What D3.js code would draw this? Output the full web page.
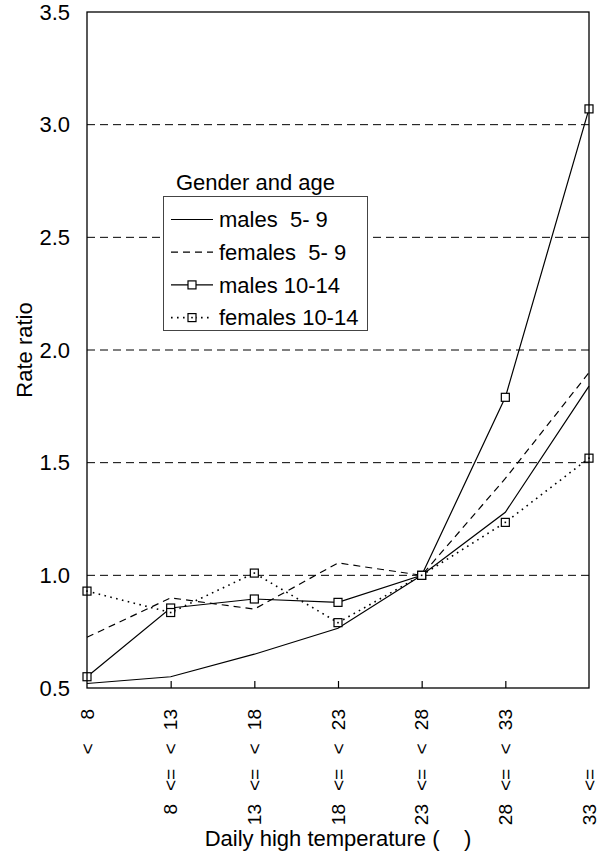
<!DOCTYPE html>
<html>
<head>
<meta charset="utf-8">
<script src="https://cdn.jsdelivr.net/npm/d3@7"></script>
<style>
	body { margin: 0; background: #fff; }
	text { font-family: "Liberation Sans", Arial, sans-serif; fill: #000; }
</style>
</head>
<body>
<div id="area1"></div>
<script>
// temperature bands (lower / upper bound of each category)
var bandLow  = [null, 8, 13, 18, 23, 28, 33];
var bandHigh = [8, 13, 18, 23, 28, 33, null];

var yTicks = [0.5, 1.0, 1.5, 2.0, 2.5, 3.0, 3.5];
var gridValues = [1.0, 1.5, 2.0, 2.5, 3.0];

// rate ratios
var males5to9    = [0.52, 0.55, 0.65, 0.765, 1.0, 1.28, 1.84];
var females5to9  = [0.725, 0.90, 0.85, 1.055, 1.0, 1.43, 1.90];
var males10to14  = [0.55, 0.855, 0.895, 0.88, 1.0, 1.79, 3.07];
var females10to14 = [0.93, 0.835, 1.01, 0.79, 1.0, 1.235, 1.52];

var seriesNames = ["males  5- 9", "females  5- 9", "males 10-14", "females 10-14"];

function drawRateRatioChart(){
	var svgWidth = 599;
	var svgHeight = 856;
	var margin = {top: 12, right: 10, bottom: 168, left: 87};
	var fontSize = 22;

	var svg = d3.select("#area1")
		.append("svg")
		.attr("width", svgWidth)
		.attr("height", svgHeight);

	var idx = d3.range(bandLow.length);

	var xScale = d3.scalePoint()
		.domain(idx)
		.range([margin.left, svgWidth - margin.right])
		.padding(0);

	var yScale = d3.scaleLinear()
		.domain([0.5, 3.5])
		.range([svgHeight - margin.bottom, margin.top]);

	var x0 = xScale.range()[0], x1 = xScale.range()[1];
	var y0 = yScale.range()[0], y1 = yScale.range()[1];

	//dashed reference lines
	svg.selectAll("line.grid")
		.data(gridValues)
		.enter()
		.append("line")
		.attr("class", "grid")
		.attr("x1", x0)
		.attr("x2", x1)
		.attr("y1", function(d){ return yScale(d); })
		.attr("y2", function(d){ return yScale(d); })
		.attr("stroke", "#000")
		.attr("stroke-width", 1)
		.attr("stroke-dasharray", "8,5");

	//y axis labels only, frame drawn separately
	var yAxis = d3.axisLeft()
		.scale(yScale)
		.tickValues(yTicks)
		.tickSize(0)
		.tickPadding(17)
		.tickFormat(d3.format(".1f"));

	var gy = svg.append("g")
		.attr("transform", "translate(" + x0 + ",0)")
		.call(yAxis);
	gy.select(".domain").remove();
	gy.selectAll("text")
		.style("font-family", "Liberation Sans, Arial, sans-serif")
		.style("font-size", fontSize + "px");

	//x axis with inward ticks on inner categories
	var xAxis = d3.axisBottom()
		.scale(xScale)
		.tickValues(idx.slice(1, idx.length - 1))
		.tickSizeInner(-7)
		.tickSizeOuter(0)
		.tickFormat("");

	var gx = svg.append("g")
		.attr("transform", "translate(0," + y0 + ")")
		.call(xAxis);
	gx.select(".domain").remove();
	gx.selectAll("line").attr("stroke", "#000").attr("stroke-width", 1.2);

	//rotated band labels, pieces at fixed offsets
	var labelSize = 19;
	var lab = svg.selectAll("g.xlab")
		.data(idx)
		.enter()
		.append("g")
		.attr("class", "xlab")
		.attr("transform", function(d){ return "translate(" + xScale(d) + ",0) rotate(-90)"; })
		.style("font-size", labelSize + "px");

	lab.filter(function(d){ return bandHigh[d] !== null; })
		.append("text")
		.attr("x", -709)
		.attr("dy", "0.35em")
		.attr("text-anchor", "end")
		.text(function(d){ return bandHigh[d]; });
	lab.filter(function(d){ return bandHigh[d] !== null; })
		.append("text")
		.attr("x", -749)
		.attr("dy", "0.35em")
		.attr("text-anchor", "middle")
		.text("<");
	lab.filter(function(d){ return bandLow[d] !== null; })
		.append("text")
		.attr("x", -780)
		.attr("dy", "0.35em")
		.attr("text-anchor", "middle")
		.text("<=");
	lab.filter(function(d){ return bandLow[d] !== null; })
		.append("text")
		.attr("x", -804)
		.attr("dy", "0.35em")
		.attr("text-anchor", "end")
		.text(function(d){ return bandLow[d]; });

	//series lines
	var series = [
		{name: seriesNames[0], values: males5to9, dash: null, marker: false},
		{name: seriesNames[1], values: females5to9, dash: "7,5", marker: false},
		{name: seriesNames[2], values: males10to14, dash: null, marker: true},
		{name: seriesNames[3], values: females10to14, dash: "1.6,4.4", marker: true}
	];

	var line = d3.line()
		.x(function(d, i){ return xScale(i); })
		.y(function(d){ return yScale(d); });

	series.forEach(function(s){
		svg.append("path")
			.datum(s.values)
			.attr("d", line)
			.attr("fill", "none")
			.attr("stroke", "#000")
			.attr("stroke-width", s.dash === "1.6,4.4" ? 1.6 : 1.2)
			.attr("stroke-dasharray", s.dash);
	});

	//square markers
	var sq = 8;
	series.filter(function(s){ return s.marker; }).forEach(function(s, k){
		svg.selectAll("rect.m" + k)
			.data(s.values)
			.enter()
			.append("rect")
			.attr("class", "m" + k)
			.attr("x", function(d, i){ return xScale(i) - sq/2; })
			.attr("y", function(d){ return yScale(d) - sq/2; })
			.attr("width", sq)
			.attr("height", sq)
			.attr("fill", "#fff")
			.attr("stroke", "#000")
			.attr("stroke-width", 1.2);
		if (s.dash) {
			svg.selectAll("rect.d" + k)
				.data(s.values)
				.enter()
				.append("rect")
				.attr("x", function(d, i){ return xScale(i) - 0.8; })
				.attr("y", function(d){ return yScale(d) - 0.8; })
				.attr("width", 1.6)
				.attr("height", 1.6)
				.attr("fill", "#000");
		}
	});

	//frame
	svg.append("rect")
		.attr("x", x0)
		.attr("y", y1)
		.attr("width", x1 - x0)
		.attr("height", y0 - y1)
		.attr("fill", "none")
		.attr("stroke", "#000")
		.attr("stroke-width", 1.3);

	//legend
	var legX = 163.5, legY = 196.5, legW = 204, legH = 134, rowH = 32.7;
	svg.append("text")
		.attr("x", 176)
		.attr("y", 190)
		.style("font-size", fontSize + "px")
		.text("Gender and age");

	svg.append("rect")
		.attr("x", legX)
		.attr("y", legY)
		.attr("width", legW)
		.attr("height", legH)
		.attr("fill", "#fff")
		.attr("stroke", "#444")
		.attr("stroke-width", 1);

	var leg = svg.selectAll("g.leg")
		.data(series)
		.enter()
		.append("g")
		.attr("class", "leg")
		.attr("transform", function(d, i){ return "translate(0," + (legY + 23 + i * rowH) + ")"; });

	leg.append("line")
		.attr("x1", 171)
		.attr("x2", 213)
		.attr("stroke", "#000")
		.attr("stroke-width", function(d){ return d.dash === "1.6,4.4" ? 1.6 : 1.2; })
		.attr("stroke-dasharray", function(d){ return d.dash; });

	leg.filter(function(d){ return d.marker; })
		.append("rect")
		.attr("x", 192 - sq/2)
		.attr("y", -sq/2)
		.attr("width", sq)
		.attr("height", sq)
		.attr("fill", "#fff")
		.attr("stroke", "#000")
		.attr("stroke-width", 1.2);

	leg.filter(function(d){ return d.dash === "1.6,4.4"; })
		.append("rect")
		.attr("x", 191.2)
		.attr("y", -0.8)
		.attr("width", 1.6)
		.attr("height", 1.6)
		.attr("fill", "#000");

	leg.append("text")
		.attr("x", 219)
		.attr("dy", "0.35em")
		.style("font-size", fontSize + "px")
		.style("white-space", "pre")
		.text(function(d){ return d.name; });

	//axis titles
	svg.append("text")
		.attr("x", (x0 + x1) / 2)
		.attr("y", 846)
		.attr("text-anchor", "middle")
		.style("font-size", fontSize + "px")
		.style("white-space", "pre")
		.text("Daily high temperature (    )");

	svg.append("text")
		.attr("transform", "translate(31.5," + ((y0 + y1) / 2) + ") rotate(-90)")
		.attr("text-anchor", "middle")
		.style("font-size", fontSize + "px")
		.text("Rate ratio");
}

drawRateRatioChart();
</script>
</body>
</html>
